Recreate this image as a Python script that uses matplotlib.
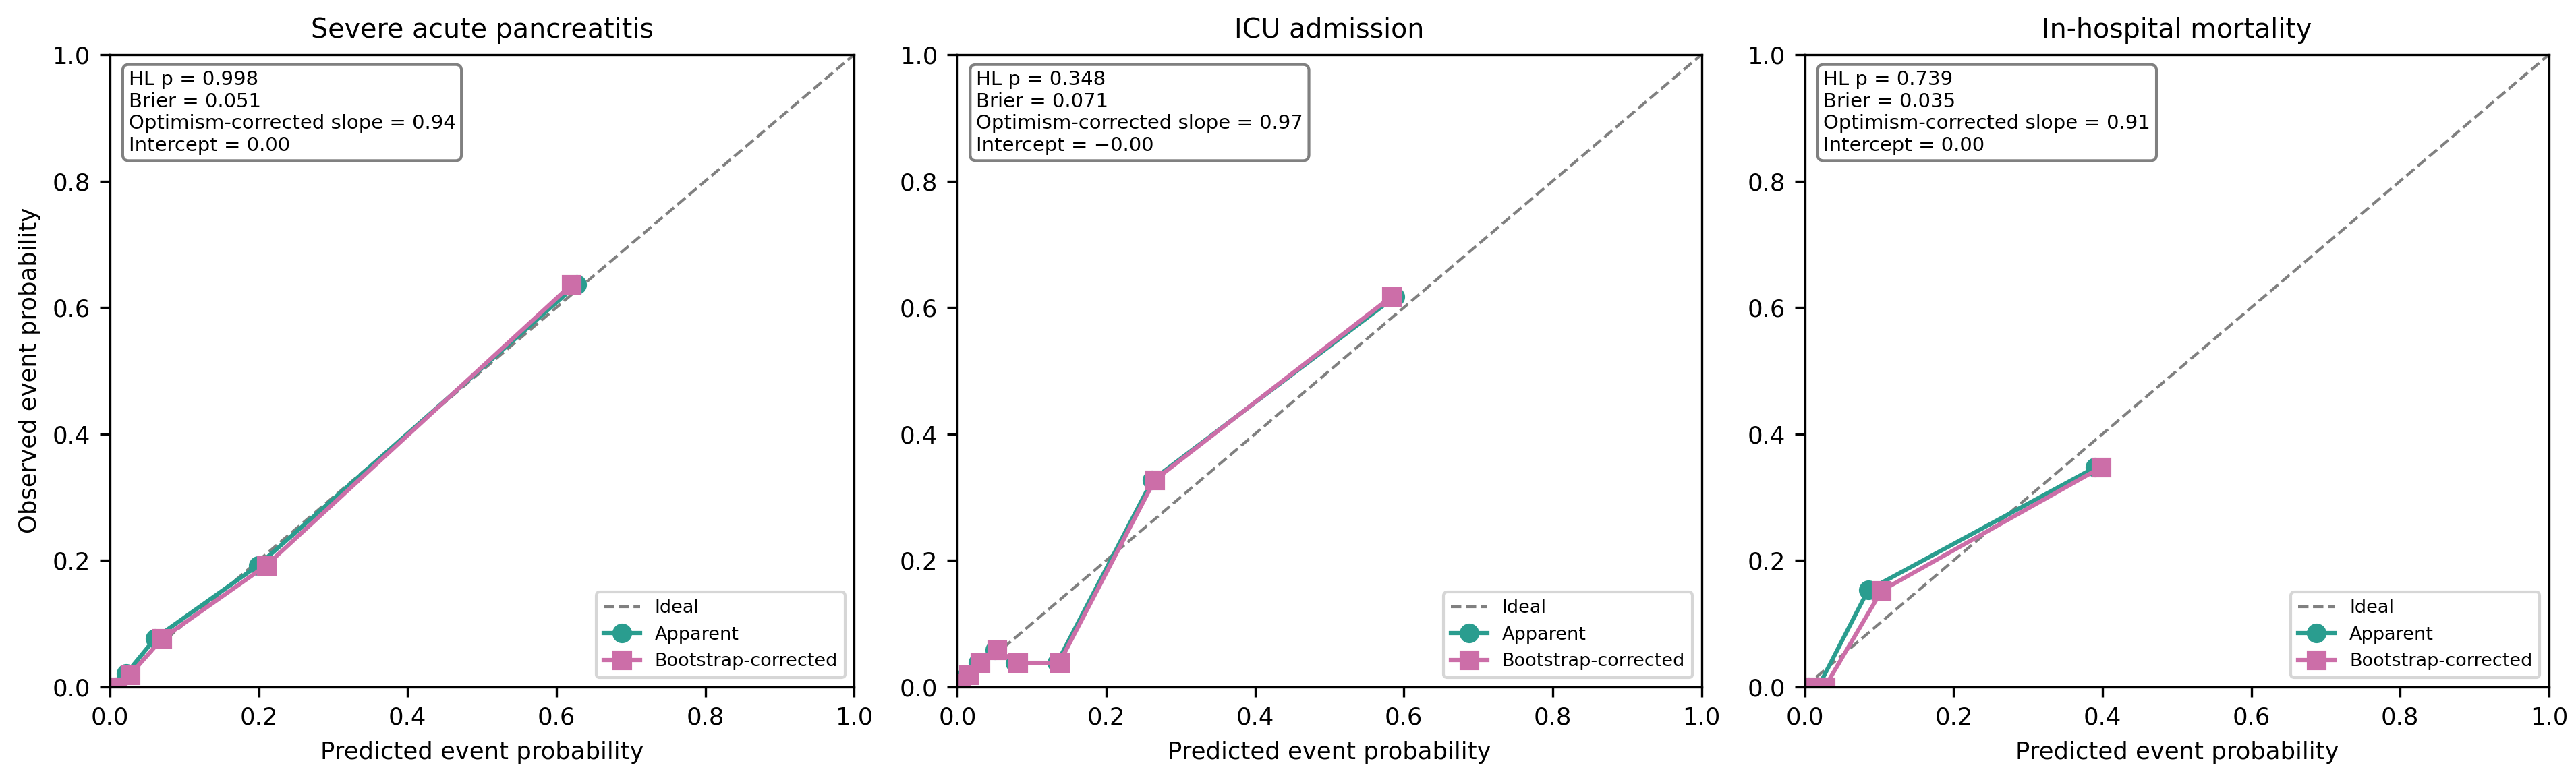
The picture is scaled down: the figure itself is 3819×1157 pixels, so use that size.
import matplotlib
matplotlib.use("Agg")
import matplotlib.pyplot as plt

# titles and stats for each outcome
titles = ["Severe acute pancreatitis", "ICU admission", "In-hospital mortality"]
hl_p = ["0.998", "0.348", "0.739"]
brier = ["0.051", "0.071", "0.035"]
slopes = ["0.94", "0.97", "0.91"]
intercepts = ["0.00", "\u22120.00", "0.00"]

# apparent calibration points (predicted, observed)
sap_app_x = [0.008, 0.022, 0.061, 0.199, 0.627]
sap_app_y = [0.0, 0.021, 0.077, 0.192, 0.636]
icu_app_x = [0.002, 0.013, 0.028, 0.050, 0.078, 0.134, 0.262, 0.588]
icu_app_y = [0.004, 0.019, 0.038, 0.058, 0.038, 0.038, 0.327, 0.617]
mort_app_x = [0.005, 0.018, 0.085, 0.390]
mort_app_y = [0.0, 0.0, 0.153, 0.347]

# bootstrap-corrected points
sap_boot_x = [0.010, 0.027, 0.070, 0.210, 0.620]
sap_boot_y = [0.0, 0.019, 0.076, 0.192, 0.636]
icu_boot_x = [0.004, 0.015, 0.030, 0.053, 0.081, 0.137, 0.265, 0.583]
icu_boot_y = [0.005, 0.019, 0.038, 0.058, 0.038, 0.038, 0.327, 0.617]
mort_boot_x = [0.008, 0.027, 0.103, 0.398]
mort_boot_y = [0.0, 0.0, 0.152, 0.347]

apparent = [(sap_app_x, sap_app_y), (icu_app_x, icu_app_y), (mort_app_x, mort_app_y)]
corrected = [(sap_boot_x, sap_boot_y), (icu_boot_x, icu_boot_y), (mort_boot_x, mort_boot_y)]

teal = "#2a9d8f"
pink = "#cc6ea8"

plt.rcParams["xtick.labelsize"] = 8.5
plt.rcParams["ytick.labelsize"] = 8.5

fig, axes = plt.subplots(1, 3, figsize=(3819 / 300, 1157 / 300), dpi=300)
fig.subplots_adjust(left=0.0427, right=0.9895, bottom=0.1195, top=0.930, wspace=0.139)

for i, ax in enumerate(axes):
    ax.plot([0, 1], [0, 1], linestyle="--", color="gray", lw=1, label="Ideal")
    ax.plot(apparent[i][0], apparent[i][1], marker="o", color=teal, lw=1.5, label="Apparent")
    ax.plot(corrected[i][0], corrected[i][1], marker="s", color=pink, lw=1.5, label="Bootstrap-corrected")
    ax.set_xlim(0, 1)
    ax.set_ylim(0, 1)
    ax.set_title(titles[i], fontsize=9.5)
    ax.set_xlabel("Predicted event probability", fontsize=8.5)
    if i == 0:
        ax.set_ylabel("Observed event probability", fontsize=8.5)
    txt = (f"HL p = {hl_p[i]}\nBrier = {brier[i]}\n"
           f"Optimism-corrected slope = {slopes[i]}\nIntercept = {intercepts[i]}")
    ax.text(0.025, 0.975, txt, transform=ax.transAxes, va="top", ha="left", fontsize=7,
            bbox=dict(boxstyle="round", facecolor="white", edgecolor="gray"))
    ax.legend(loc="lower right", fontsize=6.5)

fig.savefig("out.png", dpi=300)
